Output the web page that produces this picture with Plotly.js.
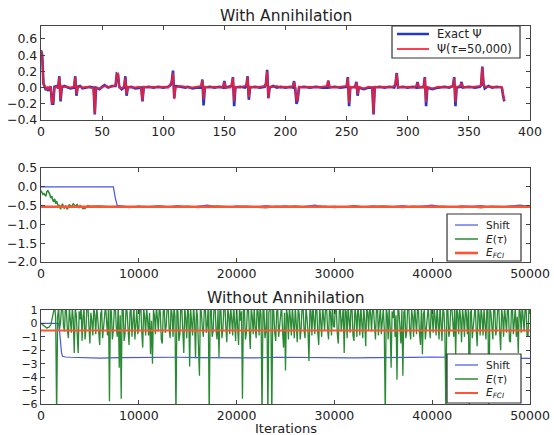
<!DOCTYPE html>
<html><head><meta charset="utf-8">
<script src="https://cdn.plot.ly/plotly-3.0.1.min.js"></script>
<style>html,body{margin:0;padding:0;background:#fff;}#chart{width:554px;height:435px;}</style>
</head><body><div id="chart"></div>
<script>
// ---------- Panel 1: wavefunction components ----------
const psiIdx = [
  0,1,2,3,4,5,6,7,8,9,
  10,11,13,14,15,16,17,19,22,24,
  27,28,29,30,32,34,37,40,43,44,
  45,48,50,52,55,58,61,62,63,64,
  66,68,69,70,71,74,77,80,82,83,
  84,88,92,96,100,104,106,107,108,109,
  110,114,118,120,124,128,131,132,133,134,
  138,142,146,149,150,151,155,156,157,158,
  159,163,167,168,169,170,171,175,179,183,
  184,185,186,187,190,193,196,200,204,206,
  207,208,209,210,211,215,220,225,230,234,
  235,236,240,245,250,251,252,253,257,258,
  259,260,264,268,271,272,273,277,281,285,
  289,290,291,292,296,300,304,307,308,309,
  313,314,315,316,320,325,330,334,337,338,
  339,340,343,344,345,350,355,359,360,361,
  362,363,366,369,373,376,377,378,379];
const psiExact = [
  0.46,0.40,0.05,0.02,-0.03,-0.01,-0.04,0.00,0.00,-0.20,
  -0.20,0.01,0.02,-0.01,0.14,-0.17,0.00,0.02,0.00,-0.01,
  0.00,0.14,-0.10,0.01,0.02,-0.01,0.00,0.01,0.00,-0.33,
  0.00,-0.02,0.01,0.03,0.00,0.02,0.02,0.17,0.16,0.01,
  -0.02,0.00,0.14,-0.10,0.00,0.01,-0.01,0.00,0.00,-0.17,
  0.00,0.01,0.00,0.01,0.00,0.01,0.03,0.08,0.21,-0.13,
  0.02,0.01,0.00,0.01,-0.01,0.00,0.00,0.10,-0.22,0.00,
  0.01,0.00,0.01,0.00,0.08,0.00,0.01,0.02,0.13,-0.23,
  0.00,0.01,0.00,0.02,0.14,-0.15,0.00,0.01,0.00,0.01,
  0.05,0.22,-0.13,0.00,0.02,0.00,0.01,0.00,0.01,0.00,
  0.08,-0.02,-0.20,-0.15,0.00,0.01,0.00,0.01,0.00,0.00,
  0.08,0.00,0.01,0.00,0.01,0.13,-0.23,0.00,0.01,0.07,
  -0.10,0.00,-0.02,0.00,0.00,-0.33,0.00,0.01,0.00,0.01,
  0.00,0.05,0.18,0.00,0.01,0.00,0.01,0.00,0.07,0.00,
  0.01,0.13,-0.23,0.00,-0.02,0.00,0.01,0.00,0.02,0.13,
  -0.23,0.00,0.01,0.07,0.00,0.01,0.00,0.01,0.03,0.26,
  0.04,-0.01,0.02,0.00,0.01,0.00,0.00,-0.10,-0.17];
const psiApprox = [
  0.45,0.38,0.06,0.03,-0.02,0.00,-0.03,0.01,0.00,-0.19,
  -0.18,0.00,0.01,0.00,0.13,-0.15,0.02,0.01,0.01,0.00,
  0.01,0.13,-0.08,0.00,0.01,0.00,0.01,0.00,-0.01,-0.32,
  0.00,-0.01,0.00,0.02,0.01,0.01,0.03,0.16,0.17,0.00,
  -0.01,0.02,0.12,-0.08,0.01,0.00,0.00,0.01,-0.01,-0.16,
  0.01,0.00,0.01,0.00,0.01,0.00,0.05,0.07,0.18,-0.14,
  0.00,0.02,0.01,0.00,0.00,0.01,0.02,0.09,-0.15,0.01,
  0.00,0.01,0.00,0.01,0.07,0.00,0.00,0.05,0.12,-0.17,
  0.01,0.00,0.02,0.03,0.13,-0.12,0.01,0.00,0.01,0.02,
  0.04,0.20,-0.13,0.01,0.01,0.02,0.00,0.01,0.00,0.02,
  0.07,0.00,-0.17,-0.14,0.01,0.00,0.01,0.00,0.01,0.02,
  0.09,0.01,0.00,0.01,0.02,0.12,-0.19,0.01,0.00,0.06,
  -0.08,0.01,-0.01,0.01,0.00,-0.32,0.01,0.00,0.01,0.00,
  0.02,0.06,0.17,0.01,0.00,0.01,0.00,0.02,0.06,0.01,
  0.00,0.12,-0.18,0.01,-0.01,0.01,0.00,0.01,0.01,0.12,
  -0.18,0.01,0.02,0.06,0.01,0.00,0.01,0.02,0.03,0.25,
  0.04,0.01,0.01,0.01,0.00,0.01,0.00,-0.09,-0.16];

// ---------- Panel 2: with annihilation ----------
const fciIter = [0, 50000];
const fciEnergy = [-0.53, -0.53];
const midShiftHead = [0, 7400, 7600, 7800];
const midShiftHeadVals = [0, 0, -0.3, -0.5];
const midShiftTailStep = 1000;  // samples from 8000 on
const midShiftTail = [
  -0.50,-0.53,-0.52,-0.55,-0.51,-0.53,-0.50,-0.54,-0.52,-0.49,
  -0.53,-0.55,-0.51,-0.52,-0.54,-0.50,-0.53,-0.51,-0.55,-0.52,
  -0.49,-0.53,-0.52,-0.54,-0.50,-0.53,-0.51,-0.55,-0.52,-0.50,
  -0.54,-0.52,-0.49,-0.53,-0.55,-0.51,-0.52,-0.50,-0.54,-0.53,
  -0.51,-0.49,-0.52];
const midEEarly = [ // every 100 iterations, 0..5000
  -0.10,-0.15,-0.20,-0.18,-0.22,-0.25,-0.12,-0.10,-0.15,-0.20,
  -0.30,-0.25,-0.35,-0.40,-0.32,-0.45,-0.38,-0.50,-0.55,-0.48,
  -0.60,-0.52,-0.45,-0.55,-0.58,-0.50,-0.55,-0.60,-0.52,-0.48,
  -0.50,-0.55,-0.50,-0.45,-0.48,-0.52,-0.50,-0.47,-0.52,-0.55,
  -0.50,-0.53,-0.57,-0.58,-0.55,-0.58,-0.54,-0.52,-0.50,-0.51,
  -0.52];
const midELate = [ // every 1000 iterations, 6000..50000
  -0.51,-0.53,-0.52,-0.55,-0.52,-0.53,-0.51,-0.54,-0.53,-0.52,
  -0.55,-0.53,-0.51,-0.53,-0.54,-0.52,-0.53,-0.56,-0.52,-0.53,
  -0.51,-0.54,-0.53,-0.52,-0.55,-0.53,-0.52,-0.54,-0.53,-0.51,
  -0.53,-0.55,-0.52,-0.53,-0.54,-0.52,-0.53,-0.55,-0.53,-0.56,
  -0.52,-0.53,-0.54,-0.52,-0.53];

// ---------- Panel 3: without annihilation ----------
const botShiftIter = [0,1800,1900,2000,2100,2200,2500,3000,4000,5000,
  6000,8000,10000,12000,14000,16000,18000,20000,22000,24000,
  26000,28000,30000,32000,34000,36000,38000,40000,42000,44000,
  46000,48000,50000];
const botShift = [0,0,-0.6,-1.6,-2.2,-2.45,-2.5,-2.52,-2.55,-2.6,
  -2.58,-2.55,-2.53,-2.55,-2.52,-2.54,-2.55,-2.53,-2.56,-2.52,
  -2.54,-2.55,-2.53,-2.56,-2.54,-2.55,-2.53,-2.5,-2.52,-2.55,
  -2.57,-2.56,-2.6];
const botEStep = 100;
const botE = [
  0.0,-0.05,-0.1,-0.2,-0.25,-0.3,-0.35,-0.3,-0.3,-0.2,-0.1,0.2,0.6,1.1,1.3,0.4,-7,0.5,1.2,-0.4,
  0.1,1.2,1.4,-0.2,-0.6,1.3,0.9,-0.5,-1.1,1.2,0.4,-0.7,1.2,0.3,-2.2,1.1,0.7,-1.0,-2.2,0.9,
  0.3,1.3,-1.3,0.5,1.1,-1.2,-0.4,1.4,1.3,-0.2,-1.5,0.8,0.2,-0.9,1.2,0.6,-0.8,1.3,0.6,-0.6,
  -1.6,0.7,1.0,-1.1,-0.3,0.9,1.4,0.2,-0.9,1.2,-5.8,1.3,0.8,-1.2,-0.5,1.1,1.3,-0.3,-1.0,1.4,
  -3.3,0.6,-5.6,1.4,1.2,-1.3,-0.7,1.2,0.9,-0.4,-1.6,0.8,1.3,-1.0,0.1,1.3,-1.2,0.5,1.1,-0.8,
  -0.4,1.2,1.4,-0.6,-1.8,1.1,0.5,-0.9,1.2,0.3,-0.9,0.8,-2.3,0.2,-3.0,1.0,0.6,-0.8,1.3,0.4,
  -0.6,1.3,0.8,-1.2,-1.5,0.9,1.2,-0.7,-0.2,1.3,1.4,-0.4,-1.1,1.2,0.7,-1.0,1.3,0.5,-7,1.1,
  0.9,-1.3,-0.8,1.4,1.1,-0.6,-2.2,1.2,0.4,-1.1,1.2,0.7,-3.2,1.1,0.3,-0.9,1.3,0.2,-2.6,1.2,
  0.5,-1.2,-3.9,1.3,0.8,-0.4,-1.0,1.1,1.4,-0.7,0.0,1.3,-7,0.9,1.2,-1.0,-0.6,1.4,1.3,-0.5,
  -1.2,1.0,-2.5,1.3,0.9,-1.1,-0.4,1.2,1.4,-0.3,-1.4,1.1,0.6,-0.8,1.2,0.3,-0.9,1.4,0.4,-1.3,
  1.3,0.2,-1.6,1.2,0.2,0.9,-5.6,1.3,1.1,-1.2,-0.7,1.0,1.4,-0.5,-1.9,1.2,0.5,-0.8,1.2,-0.3,
  -1.1,1.3,0.8,-0.9,1.3,0.6,-7,1.2,1.0,-1.1,-0.5,1.3,-7,0.8,1.2,1.0,-7,1.3,0.9,-0.7,
  -1.3,0.9,1.1,-1.0,-0.2,1.2,1.4,-0.6,-1.8,0.8,-3.5,1.1,0.6,-1.2,1.2,0.4,-0.9,1.3,0.3,-1.1,
  1.3,0.1,-1.4,1.2,0.7,-1.2,-0.4,1.4,1.2,-0.5,-1.1,1.3,0.5,-0.6,-2.8,1.1,0.9,-0.9,1.4,0.3,
  -0.8,1.2,1.1,-0.7,-1.6,1.3,0.4,-1.0,1.3,0.6,-0.5,1.4,1.2,-0.4,-1.2,1.1,0.8,-0.9,1.4,-0.2,
  -0.3,1.3,1.0,-0.8,-1.5,0.9,1.2,-0.6,0.1,1.2,-2.2,1.0,0.9,-1.1,1.3,0.2,-0.7,1.4,1.1,-0.9,
  -1.3,1.2,0.6,-1.0,1.4,0.5,-0.9,1.3,0.3,-1.1,1.2,0.2,-1.7,1.1,0.8,-0.5,1.3,0.7,-0.6,1.2,
  1.0,-0.6,-1.2,1.1,1.4,-0.9,0.2,1.3,-0.8,0.6,1.1,-0.4,-7,1.2,0.7,-1.2,1.2,-0.3,-3.3,0.9,
  0.4,1.3,-1.0,0.6,-4.2,1.2,0.9,-0.3,-1.5,1.1,-3.9,0.8,1.1,-1.1,-0.6,1.4,1.3,-0.5,-1.2,1.0,
  0.5,-1.0,1.4,0.3,-0.8,1.2,0.9,-0.7,-1.6,1.3,-2.3,0.7,1.0,-1.2,-0.4,1.1,1.3,-0.2,-1.1,1.2,
  0.6,-0.7,1.2,0.4,-0.9,1.3,0.3,-1.2,1.4,0.1,-1.3,1.2,0.8,-0.6,-7,1.3,1.1,-1.0,-0.5,1.3,
  1.3,0.2,-1.0,1.1,-2.4,1.2,0.7,-0.8,1.2,0.4,-1.4,1.1,0.4,-1.0,1.3,0.6,-0.8,1.2,-7,0.8,
  1.0,-1.1,-0.3,1.2,1.4,-0.5,-1.7,1.3,0.6,-0.9,1.2,0.5,-0.9,1.1,0.2,-1.2,1.3,0.9,-7,1.2,
  0.8,-0.5,-1.2,1.3,1.1,-0.9,-0.4,1.2,1.4,-0.6,-2.0,1.1,0.5,-1.0,1.2,0.3,-0.7,1.3,0.9,-1.3,
  -1.4,1.0,1.3,-0.8,0.1,1.2,-1.0,0.5,-2.2,1.3,0.8,-0.7,1.4,0.2,-0.6,1.2,1.1,-0.9,-1.0,1.3,
  0.7];

// legend labels
const topLegendLabels = ['Exact Ψ', 'Ψ(<i>τ</i>=50,000)'];
const energyLegendLabels = ['Shift', '<i>E</i>(<i>τ</i>)', '<i>E</i><sub><i>FCI</i></sub>'];

// sampling grids (iteration numbers)
const midShiftIter = midShiftHead.concat(midShiftTail.map((_, i) => 8000 + midShiftTailStep * i));
const midShiftVals = midShiftHeadVals.concat(midShiftTail);
const midEIter = midEEarly.map((_, i) => 100 * i).concat(midELate.map((_, i) => 6000 + 1000 * i));
const midEVals = midEEarly.concat(midELate);
const botEIter = botE.map((_, i) => botEStep * i);

const FONT = 'DejaVu Sans, sans-serif';
const BLUE = '#4656e6', GREEN = '#2a8a34', RED = '#ff5433';
const TOPBLUE = '#2438c8', TOPRED = 'rgba(250,30,50,0.85)';

const traces = [
  {x: psiIdx, y: psiExact, name: topLegendLabels[0], line: {color: TOPBLUE, width: 2.6}, xaxis: 'x', yaxis: 'y'},
  {x: psiIdx, y: psiApprox, name: topLegendLabels[1], line: {color: TOPRED, width: 2}, xaxis: 'x', yaxis: 'y'},
  {x: midShiftIter, y: midShiftVals, name: energyLegendLabels[0], line: {color: BLUE, width: 1.2}, xaxis: 'x2', yaxis: 'y2'},
  {x: midEIter, y: midEVals, name: energyLegendLabels[1], line: {color: GREEN, width: 1.5}, xaxis: 'x2', yaxis: 'y2'},
  {x: fciIter, y: fciEnergy, name: energyLegendLabels[2], line: {color: RED, width: 2.6}, xaxis: 'x2', yaxis: 'y2'},
  {x: botShiftIter, y: botShift, name: energyLegendLabels[0], line: {color: BLUE, width: 1.2}, xaxis: 'x3', yaxis: 'y3'},
  {x: botEIter, y: botE, name: energyLegendLabels[1], line: {color: GREEN, width: 1.3}, xaxis: 'x3', yaxis: 'y3'},
  {x: fciIter, y: fciEnergy, name: energyLegendLabels[2], line: {color: RED, width: 2}, xaxis: 'x3', yaxis: 'y3'}
].map(t => Object.assign({type: 'scatter', mode: 'lines', showlegend: false}, t));

const axBase = {
  showgrid: false, zeroline: false, showline: true, linecolor: '#444', linewidth: 1.2,
  mirror: 'ticks', ticks: 'inside', ticklen: 4, tickwidth: 1, tickcolor: '#444',
  tickfont: {family: FONT, size: 12.5, color: '#222'}, fixedrange: true
};

// ---- boxed legends (paper coordinates) ----
const shapes = [];
const annotations = [];
function addLegend(box, rows, lineX, textX, fontSize, entries) {
  shapes.push({type: 'rect', xref: 'paper', yref: 'paper', x0: box[0], x1: box[1], y0: box[2], y1: box[3],
    fillcolor: '#ffffff', line: {color: '#333', width: 1.2}, layer: 'above'});
  entries.forEach((e, i) => {
    shapes.push({type: 'line', xref: 'paper', yref: 'paper', x0: lineX[0], x1: lineX[1], y0: rows[i], y1: rows[i],
      line: {color: e.color, width: e.width}, layer: 'above'});
    annotations.push({text: e.label, xref: 'paper', yref: 'paper', x: textX, y: rows[i], xanchor: 'left', yanchor: 'middle',
      showarrow: false, font: {family: FONT, size: fontSize, color: '#222'}});
  });
}
addLegend([0.7178, 0.9796, 0.9153, 1.0], [0.9788, 0.9392], [0.728, 0.7935], 0.8058, 11.5, [
  {label: topLegendLabels[0], color: TOPBLUE, width: 2.6},
  {label: topLegendLabels[1], color: TOPRED, width: 2}]);
addLegend([0.8303, 0.9816, 0.3783, 0.5026], [0.4735, 0.4365, 0.3995], [0.8466, 0.8937], 0.9059, 10.5, [
  {label: energyLegendLabels[0], color: BLUE, width: 1.2},
  {label: energyLegendLabels[1], color: GREEN, width: 1.5},
  {label: energyLegendLabels[2], color: RED, width: 2.6}]);
addLegend([0.8303, 0.9816, 0.0026, 0.1323], [0.1032, 0.0661, 0.0291], [0.8466, 0.8937], 0.9059, 10.5, [
  {label: energyLegendLabels[0], color: BLUE, width: 1.2},
  {label: energyLegendLabels[1], color: GREEN, width: 1.5},
  {label: energyLegendLabels[2], color: RED, width: 2}]);

annotations.push(
  {text: 'With Annihilation', xref: 'paper', yref: 'paper', x: 0.5, y: 1.026, xanchor: 'center', yanchor: 'middle',
   showarrow: false, font: {family: FONT, size: 15.5, color: '#222'}},
  {text: 'Without Annihilation', xref: 'paper', yref: 'paper', x: 0.5, y: 0.2804, xanchor: 'center', yanchor: 'middle',
   showarrow: false, font: {family: FONT, size: 15.5, color: '#222'}},
  {text: 'Iterations', xref: 'paper', yref: 'paper', x: 0.5, y: -0.0635, xanchor: 'center', yanchor: 'middle',
   showarrow: false, font: {family: FONT, size: 13, color: '#222'}}
);

const layout = {
  width: 554, height: 435,
  margin: {l: 41, r: 24, t: 26, b: 31, pad: 0},
  paper_bgcolor: '#fff', plot_bgcolor: '#fff',
  font: {family: FONT, color: '#222'},
  showlegend: false,
  xaxis: Object.assign({}, axBase, {domain: [0, 1], anchor: 'y', range: [0, 400], tick0: 0, dtick: 50}),
  yaxis: Object.assign({}, axBase, {domain: [0.7513, 1], anchor: 'x', range: [-0.4, 0.76], tick0: 0, dtick: 0.2, tickformat: '.1f'}),
  xaxis2: Object.assign({}, axBase, {domain: [0, 1], anchor: 'y2', range: [0, 50000], tick0: 0, dtick: 10000, tickformat: 'd'}),
  yaxis2: Object.assign({}, axBase, {domain: [0.3757, 0.6243], anchor: 'x2', range: [-2, 0.5], tick0: 0, dtick: 0.5, tickformat: '.1f'}),
  xaxis3: Object.assign({}, axBase, {domain: [0, 1], anchor: 'y3', range: [0, 50000], tick0: 0, dtick: 10000, tickformat: 'd'}),
  yaxis3: Object.assign({}, axBase, {domain: [0, 0.2487], anchor: 'x3', range: [-6, 1], tick0: 0, dtick: 1,
    tickfont: {family: FONT, size: 11, color: '#222'}}),
  shapes: shapes,
  annotations: annotations
};

Plotly.newPlot('chart', traces, layout, {displayModeBar: false, staticPlot: true});
</script></body></html>
